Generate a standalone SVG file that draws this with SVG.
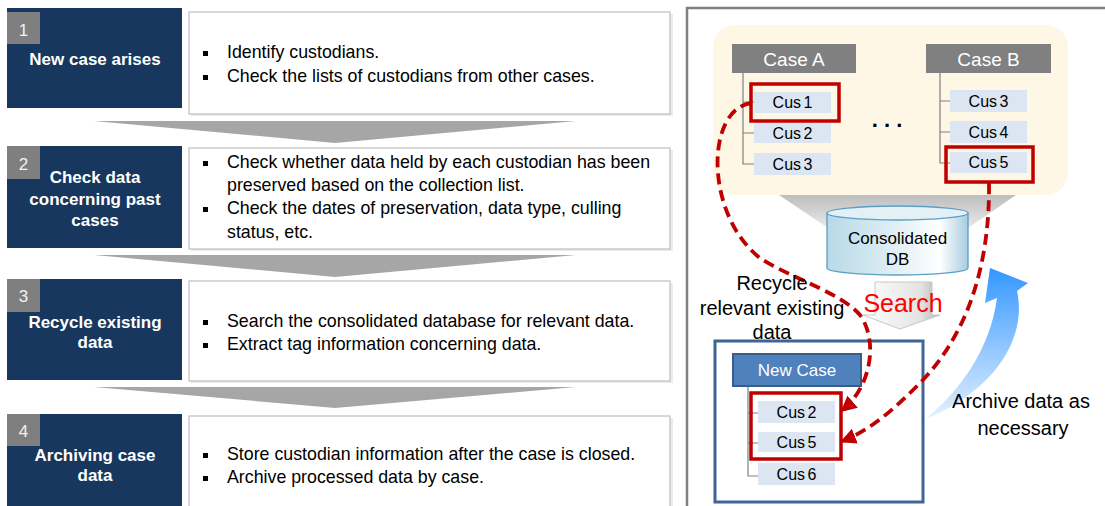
<svg xmlns="http://www.w3.org/2000/svg" width="1105" height="506" viewBox="0 0 1105 506">
<defs>
<style>
text{font-family:"Liberation Sans",Arial,sans-serif}
.navy{fill:#17375E}
.num{fill:#7F7F7F}
.numt{fill:#F2F2F2;font-size:17px;text-anchor:middle}
.title{fill:#FFFFFF;font-size:17px;font-weight:bold;text-anchor:middle}
.box{fill:#FFFFFF;stroke:#BFBFBF;stroke-width:1.2}
.shadow{fill:#EBEBEB}
.bul{fill:#000000}
.bt{font-size:17.8px;fill:#000000}
.chev{fill:#A6A6A6}
.cus{fill:#DCE6F2}
.cust{font-size:16px;text-anchor:middle;fill:#000000;word-spacing:-2px}
.tree{stroke:#808080;stroke-width:1.2;fill:none}
.hl{fill:none;stroke:#C00000;stroke-width:3.5}
.case{fill:#808080}
.caset{fill:#FFFFFF;font-size:19px;text-anchor:middle}
.dash{fill:none;stroke:#C00000;stroke-width:3.8;stroke-dasharray:11 6}
.lbl{font-size:20px;text-anchor:middle;fill:#000000}
</style>
<marker id="ah" viewBox="0 0 10 10" refX="8" refY="5" markerWidth="4.2" markerHeight="4.2" orient="auto">
<path d="M0,0 L10,5 L0,10 Z" fill="#C00000"/>
</marker>
<linearGradient id="gBlue" gradientUnits="userSpaceOnUse" x1="0" y1="268" x2="0" y2="421">
<stop offset="0" stop-color="#3397FF"/>
<stop offset="1" stop-color="#E6F2FF"/>
</linearGradient>
<linearGradient id="gCyl" x1="0" y1="0" x2="1" y2="0">
<stop offset="0" stop-color="#B7D9E7"/>
<stop offset="0.55" stop-color="#E6F2F7"/>
<stop offset="0.8" stop-color="#FFFFFF"/>
<stop offset="1" stop-color="#A8CCDF"/>
</linearGradient>
<linearGradient id="gFun" x1="0" y1="0" x2="0" y2="1">
<stop offset="0" stop-color="#BDBDBD"/>
<stop offset="1" stop-color="#E9E9E9"/>
</linearGradient>
<linearGradient id="gSearch" x1="0" y1="0" x2="1" y2="0">
<stop offset="0" stop-color="#FFFFFF"/>
<stop offset="0.75" stop-color="#E3E3E3"/>
<stop offset="1" stop-color="#B5B5B5"/>
</linearGradient>
</defs>
<rect x="0" y="0" width="1105" height="506" fill="#FFFFFF"/>

<!-- Left column steps -->
<g id="step1">
<rect class="navy" x="7" y="8" width="175" height="100"/>
<rect class="num" x="7" y="12" width="33" height="32"/>
<text class="numt" x="23.5" y="36">1</text>
<text class="title" x="95" y="65">New case arises</text>
</g>
<g id="desc1">
<rect class="shadow" x="191" y="14" width="482" height="102"/>
<rect class="box" x="189" y="12" width="481" height="102"/>
<rect class="bul" x="203" y="51" width="5" height="5"/>
<text class="bt" x="227" y="58">Identify custodians.</text>
<rect class="bul" x="203" y="75" width="5" height="5"/>
<text class="bt" x="227" y="82">Check the lists of custodians from other cases.</text>
</g>

<g id="step2">
<rect class="navy" x="7" y="146" width="175" height="102"/>
<rect class="num" x="7" y="146" width="33" height="33"/>
<text class="numt" x="23.5" y="170">2</text>
<text class="title" x="95" y="183">Check data</text>
<text class="title" x="95" y="204.5">concerning past</text>
<text class="title" x="95" y="226">cases</text>
</g>
<g id="desc2">
<rect class="shadow" x="191" y="150" width="482" height="101"/>
<rect class="box" x="189" y="148" width="481" height="101"/>
<rect class="bul" x="203" y="161" width="5" height="5"/>
<text class="bt" x="227" y="168">Check whether  data held by each custodian has been</text>
<text class="bt" x="227" y="191">preserved based on the collection list.</text>
<rect class="bul" x="203" y="207" width="5" height="5"/>
<text class="bt" x="227" y="214">Check the dates of preservation, data type, culling</text>
<text class="bt" x="227" y="237.5">status, etc.</text>
</g>

<g id="step3">
<rect class="navy" x="7" y="279" width="175" height="101"/>
<rect class="num" x="7" y="279" width="33" height="33"/>
<text class="numt" x="23.5" y="302">3</text>
<text class="title" x="95" y="327.5">Recycle existing</text>
<text class="title" x="95" y="347.5">data</text>
</g>
<g id="desc3">
<rect class="shadow" x="191" y="283" width="482" height="100"/>
<rect class="box" x="189" y="281" width="481" height="100"/>
<rect class="bul" x="203" y="320" width="5" height="5"/>
<text class="bt" x="227" y="327">Search the consolidated database for relevant data.</text>
<rect class="bul" x="203" y="343" width="5" height="5"/>
<text class="bt" x="227" y="350">Extract tag information concerning data.</text>
</g>

<g id="step4">
<rect class="navy" x="7" y="414" width="175" height="100"/>
<rect class="num" x="7" y="414" width="33" height="32"/>
<text class="numt" x="23.5" y="437">4</text>
<text class="title" x="95" y="461">Archiving case</text>
<text class="title" x="95" y="481">data</text>
</g>
<g id="desc4">
<rect class="shadow" x="191" y="418" width="482" height="100"/>
<rect class="box" x="189" y="416" width="481" height="100"/>
<rect class="bul" x="203" y="453" width="5" height="5"/>
<text class="bt" x="227" y="460">Store custodian information after the case is closed.</text>
<rect class="bul" x="203" y="476" width="5" height="5"/>
<text class="bt" x="227" y="483">Archive processed data by case.</text>
</g>

<!-- Right panel -->
<g id="panel">
<rect x="687" y="8" width="500" height="600" fill="none" stroke="#808080" stroke-width="2.5"/>
<rect x="713" y="25" width="355" height="170" rx="22" fill="#FFF7E6"/>
</g>

<g id="db">
<polygon points="779,195 1016,195 968,228 828,228" fill="url(#gFun)"/>
<path d="M827,213 L827,268 A70.5,7 0 0 0 968,268 L968,213 Z" fill="url(#gCyl)" stroke="#5A9FC4" stroke-width="1.3"/>
<ellipse cx="897.5" cy="213" rx="70.5" ry="7" fill="#E3F0F6" stroke="#5A9FC4" stroke-width="1.3"/>
<text class="lbl" x="897.5" y="244" style="font-size:17px">Consolidated</text>
<text class="lbl" x="897.5" y="265" style="font-size:17px">DB</text>
</g>

<g id="caseA">
<path class="tree" d="M743,73 V164 H754 M743,102 H754 M743,133 H754"/>
<rect class="case" x="732" y="44" width="124" height="29"/>
<text class="caset" x="794" y="65.5">Case A</text>
<rect class="cus" x="754" y="92" width="77" height="21"/>
<text class="cust" x="792.5" y="108">Cus 1</text>
<rect class="cus" x="754" y="123" width="77" height="20"/>
<text class="cust" x="792.5" y="139">Cus 2</text>
<rect class="cus" x="754" y="153" width="77" height="22"/>
<text class="cust" x="792.5" y="170">Cus 3</text>
<rect class="hl" x="751" y="84" width="88" height="37"/>
</g>

<g id="ellipsis">
<text x="887" y="127" style="font-size:22px;font-weight:bold;text-anchor:middle;fill:#000">. . .</text>
</g>

<g id="caseB">
<path class="tree" d="M940,73 V163 H950 M940,101 H950 M940,132 H950"/>
<rect class="case" x="926" y="44" width="125" height="29"/>
<text class="caset" x="988.5" y="65.5">Case B</text>
<rect class="cus" x="950" y="90" width="77" height="22"/>
<text class="cust" x="988.5" y="107">Cus 3</text>
<rect class="cus" x="950" y="121" width="77" height="22"/>
<text class="cust" x="988.5" y="138">Cus 4</text>
<rect class="cus" x="950" y="152" width="77" height="21"/>
<text class="cust" x="988.5" y="168">Cus 5</text>
<rect class="hl" x="946" y="147" width="87" height="35"/>
</g>

<g id="newcase">
<rect x="715" y="341" width="208" height="161" fill="#FFFFFF" stroke="#3F6496" stroke-width="3"/>
<path class="tree" d="M748,386 V476 H758 M748,413 H758 M748,443 H758"/>
<rect x="733" y="354" width="128" height="32" fill="#4F81BD" stroke="#385D8A" stroke-width="2"/>
<text x="797" y="376" style="font-size:17px;fill:#FFFFFF;text-anchor:middle">New Case</text>
<rect class="cus" x="758" y="401" width="77" height="22"/>
<text class="cust" x="796.5" y="418">Cus 2</text>
<rect class="cus" x="758" y="432" width="77" height="20"/>
<text class="cust" x="796.5" y="448">Cus 5</text>
<rect class="cus" x="758" y="463" width="77" height="22"/>
<text class="cust" x="796.5" y="480">Cus 6</text>
<rect class="hl" x="751" y="393" width="90" height="66"/>
</g>

<g id="connectors">
<polygon class="chev" points="94,121 576,121 335,143"/>
<polygon class="chev" points="94,255 576,255 335,277"/>
<polygon class="chev" points="94,387 576,387 335,408"/>
<polygon points="875,282 932,282 932,315 940,315 900,329 863,315 875,315" fill="url(#gSearch)" stroke="#C8C8C8" stroke-width="1"/>
<path class="dash" d="M751,103 C705,110 705,215 760,258 C790,278 840,292 860,315 C878,340 872,385 843,410" marker-end="url(#ah)"/>
<path class="dash" d="M989,183 C990,270 965,340 915,388 C893,410 870,430 843,441" marker-end="url(#ah)"/>
<path d="M990,268 L1028,283 L1017,291 C1026,330 1005,385 926,419 C960,390 990,350 997,298 L985,303 Z" fill="url(#gBlue)"/>
</g>

<g id="labels">
<text x="903" y="312" style="font-size:25px;fill:#FF0000;text-anchor:middle">Search</text>
<text class="lbl" x="772" y="290">Recycle</text>
<text class="lbl" x="772" y="315">relevant existing</text>
<text class="lbl" x="772" y="339">data</text>
<text class="lbl" x="1021" y="408">Archive data as</text>
<text class="lbl" x="1023" y="435">necessary</text>
</g>
</svg>
